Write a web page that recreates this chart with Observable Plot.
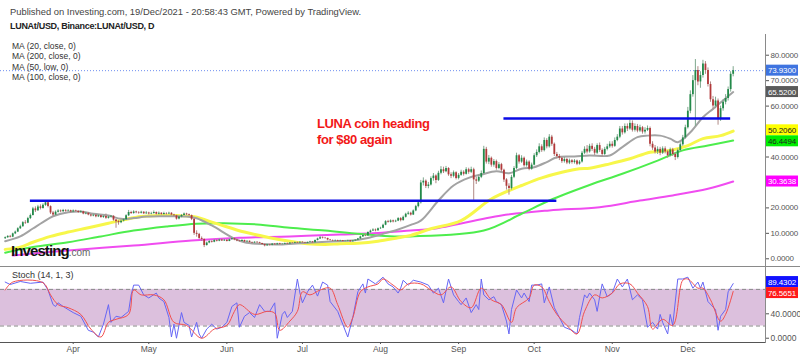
<!DOCTYPE html>
<html><head><meta charset="utf-8">
<script src="https://cdn.jsdelivr.net/npm/d3@7"></script>
<script src="https://cdn.jsdelivr.net/npm/@observablehq/plot@0.6"></script>
<style>
body{margin:0;background:#fff;}
#wrap{position:relative;width:800px;height:357px;overflow:hidden;font-family:Arial,"Liberation Sans",sans-serif;background:#fff;}
.abs{position:absolute;white-space:nowrap;z-index:5;}
#price,#stoch{position:absolute;left:0;}
#price{top:0;} #stoch{top:266px;}
.hl{position:absolute;background:#8a8a8a;z-index:4;}
.ma{position:absolute;white-space:nowrap;z-index:5;left:12px;font-size:8.5px;color:#333;}
</style></head><body><div id="wrap">
<div id="price"></div><div id="stoch"></div>
<div class="hl" style="left:0;top:265.5px;width:800px;height:1.2px"></div>
<div class="hl" style="left:764.5px;top:34px;width:1px;height:309px"></div>
<div class="abs" style="left:10px;top:6px;font-size:9.4px;color:#444">Published on Investing.com, 19/Dec/2021 - 20:58:43 GMT, Powered by TradingView.</div>
<div class="abs" style="left:10px;top:21px;font-size:9px;letter-spacing:-0.3px;font-weight:bold;color:#222">LUNAt/USD, Binance:LUNAt/USD, D</div>
<div class="ma" style="top:40.5px">MA (20, close, 0)</div>
<div class="ma" style="top:51px">MA (200, close, 0)</div>
<div class="ma" style="top:61.5px">MA (50, low, 0)</div>
<div class="ma" style="top:72px">MA (100, close, 0)</div>
<div class="abs" style="left:317px;top:116px;font-size:13px;letter-spacing:-0.4px;line-height:16px;font-weight:bold;color:#f21818">LUNA coin heading<br>for $80 again</div>
<div class="abs" style="left:11px;top:242px;font-size:15px;font-weight:900;letter-spacing:-0.9px;color:#111">Investing<span style="font-size:10px;font-weight:normal;letter-spacing:0;color:#666">.com</span></div>
<div class="abs" style="left:12px;top:270px;font-size:9px;color:#333">Stoch (14, 1, 3)</div>
</div>
<script>
// ---------- DATA ----------
const firstDay = Date.UTC(2021, 2, 5); // Mar 5 2021, one candle per day
const firstOpen = 7.9;
const closes = [
8.3,8.8,8.5,9.8,10.5,11.8,12.6,14.2,14.0,15.8,
17.0,19.6,18.9,20.4,19.8,21.0,22.0,20.5,18.0,17.2,
18.3,18.8,18.5,19.0,18.7,18.9,18.4,18.8,18.6,18.2,
18.5,17.6,17.9,17.2,16.8,17.1,16.5,16.9,16.2,16.6,
15.9,16.4,16.7,15.2,14.6,14.2,14.8,15.3,16.9,18.2,
17.8,18.4,18.1,17.9,18.3,17.7,18.0,17.6,17.8,18.2,
17.5,17.9,17.4,17.8,17.6,17.9,17.2,16.9,15.6,16.4,
17.0,17.6,17.3,17.0,15.5,10.0,9.6,8.0,7.6,5.2,
6.2,6.8,6.5,7.2,6.9,7.4,7.0,7.3,6.8,7.5,
7.9,7.4,7.0,6.8,7.2,6.6,6.9,6.4,6.2,6.5,
6.3,6.0,5.6,5.1,5.5,5.3,5.8,5.5,5.9,5.6,
5.7,6.0,5.8,6.2,6.1,6.4,6.2,6.5,6.3,6.1,
6.4,6.6,6.3,7.2,7.8,8.3,8.1,8.0,7.4,7.2,
7.0,7.2,6.9,7.1,6.8,6.9,7.1,6.7,7.0,7.3,
7.8,8.6,9.2,9.0,10.3,10.9,11.3,11.0,11.8,12.0,
13.2,14.6,14.3,14.9,14.5,14.8,15.8,15.0,16.3,17.5,
17.9,17.2,18.8,20.5,22.0,29.8,30.5,28.4,29.0,31.5,
32.5,30.8,33.6,35.0,34.2,35.5,33.0,32.4,33.8,31.6,
32.8,34.0,33.2,35.0,34.0,35.0,31.0,30.5,32.0,33.5,
43.0,38.0,39.5,36.8,38.2,35.5,37.0,34.8,31.0,28.5,
27.6,32.0,35.5,40.5,38.0,39.5,36.6,38.0,35.2,36.8,
40.5,41.8,44.0,42.5,46.5,44.0,47.8,45.0,41.0,40.2,
39.5,38.2,39.0,37.6,38.5,37.8,38.4,37.2,38.0,41.5,
43.0,42.0,44.2,43.0,41.5,44.5,42.6,41.0,43.0,44.0,
45.0,44.2,46.5,47.8,51.0,49.5,52.0,51.0,53.2,50.5,
52.0,50.2,51.5,49.8,50.5,51.2,45.0,43.5,42.0,43.0,
41.5,43.2,42.0,40.5,42.8,41.0,39.8,42.5,44.8,47.5,
51.5,58.0,64.5,70.0,74.0,69.5,72.0,76.5,74.0,68.5,
62.5,60.0,62.0,55.0,59.0,61.5,63.0,66.5,72.5,73.93];
const highs = [
8.6,9.1,9.2,10.1,10.9,12.2,13.2,14.6,15.0,16.3,
17.6,20.2,20.4,21.0,21.2,21.6,22.8,22.5,20.8,18.6,
18.8,19.3,19.2,19.4,19.3,19.3,19.1,19.2,19.1,18.9,
18.9,18.7,18.3,18.1,17.5,17.5,17.3,17.3,17.1,17.0,
17.6,16.8,17.0,16.9,15.5,15.0,15.2,15.8,17.3,19.0,
18.7,18.9,18.7,18.5,18.7,18.5,18.6,18.3,18.3,18.8,
18.4,18.4,18.1,18.3,18.1,18.3,18.1,17.5,17.1,16.8,
17.4,18.0,17.9,17.6,17.2,15.8,11.0,10.0,8.6,7.8,
6.6,7.2,7.1,7.6,7.5,7.8,7.7,7.6,7.5,7.8,
8.3,8.1,7.6,7.2,7.5,7.3,7.1,7.0,6.6,6.7,
6.7,6.5,6.1,5.8,5.7,5.7,6.0,6.0,6.1,6.1,
6.0,6.2,6.2,6.4,6.4,6.6,6.6,6.7,6.7,6.5,
6.6,6.9,6.8,7.4,8.1,8.8,8.6,8.4,8.1,7.6,
7.4,7.4,7.3,7.3,7.2,7.1,7.3,7.2,7.2,7.5,
8.0,8.9,9.6,9.6,10.6,11.3,11.8,11.7,12.1,12.4,
13.6,15.0,15.1,15.3,15.2,15.2,16.2,16.2,16.8,17.9,
18.5,18.3,19.2,21.0,22.8,30.8,31.8,31.0,30.0,32.2,
33.5,33.0,34.4,36.2,36.0,36.3,35.8,33.8,34.5,34.2,
33.5,34.8,34.6,35.8,35.6,36.0,35.6,32.0,32.8,34.5,
44.2,43.8,40.6,40.0,39.0,38.8,37.8,37.5,35.2,31.5,
29.5,32.8,36.2,41.5,41.0,40.5,40.0,38.8,38.5,37.6,
41.3,42.8,45.2,44.8,47.5,47.2,48.8,48.5,45.5,41.8,
41.0,40.0,39.8,39.5,39.2,39.0,39.0,38.8,38.6,42.2,
44.0,44.5,45.0,45.2,43.8,45.2,45.5,43.2,43.8,45.0,
46.0,46.0,47.5,48.8,52.0,52.0,53.0,53.0,54.5,54.2,
53.0,52.8,52.5,52.0,51.5,52.2,51.8,46.0,44.5,44.0,
43.8,44.0,44.0,42.6,43.5,43.4,41.8,43.2,45.6,48.5,
52.5,59.5,66.0,72.0,78.3,75.5,73.5,78.0,77.5,75.0,
69.5,63.8,63.5,62.8,60.0,62.5,64.5,67.5,73.5,75.5];
const lows = [
7.6,8.0,8.2,8.3,9.5,10.3,11.5,12.4,13.5,13.8,
15.4,16.8,18.2,18.6,19.2,19.5,20.6,20.0,17.4,16.5,
16.9,18.0,18.1,18.2,18.3,18.4,18.0,18.1,18.2,17.8,
17.9,17.3,17.3,16.9,16.4,16.5,16.1,16.2,15.9,15.9,
15.5,15.6,16.0,14.8,12.0,13.2,13.8,14.5,15.0,16.6,
17.4,17.5,17.7,17.5,17.6,17.4,17.4,17.2,17.3,17.5,
17.2,17.2,17.1,17.1,17.2,17.3,16.9,16.5,15.2,15.3,
16.1,16.8,17.0,16.6,15.0,9.2,8.5,7.6,6.8,4.4,
5.0,5.9,6.2,6.3,6.6,6.7,6.8,6.8,6.6,6.7,
7.3,7.1,6.7,6.5,6.6,6.3,6.4,6.2,5.9,6.0,
6.0,5.7,5.3,4.7,4.9,5.0,5.1,5.3,5.3,5.4,
5.4,5.5,5.6,5.7,5.9,5.9,6.0,6.0,6.1,5.9,
5.9,6.2,6.1,6.2,7.0,7.6,7.8,7.7,7.1,6.9,
6.8,6.8,6.7,6.7,6.6,6.6,6.7,6.4,6.5,6.8,
7.1,7.6,8.4,8.7,8.9,10.0,10.7,10.6,10.8,11.5,
11.8,13.0,14.0,14.0,14.1,14.2,14.6,14.5,14.8,16.0,
17.1,16.8,17.0,18.5,20.0,21.5,28.6,27.6,27.5,28.6,
30.5,29.5,30.4,33.0,33.5,33.8,32.4,31.5,31.8,31.0,
31.0,32.4,32.5,32.9,33.2,33.5,23.0,29.2,30.0,31.5,
33.2,37.2,37.0,36.0,36.0,34.8,35.0,34.0,30.0,27.0,
25.0,27.0,31.5,35.0,37.2,37.5,36.0,36.0,34.6,34.8,
36.5,39.8,41.2,41.8,42.0,43.2,43.5,44.2,40.2,39.2,
38.6,37.5,37.6,37.0,37.0,37.2,37.2,36.6,36.8,37.6,
41.0,41.2,41.5,42.2,40.6,41.0,41.8,40.0,40.5,42.4,
43.4,43.5,43.8,46.0,47.2,48.6,49.0,50.0,50.5,49.8,
49.8,49.5,49.6,49.0,49.0,50.0,44.0,42.6,41.2,41.0,
40.5,41.0,41.2,39.5,40.0,40.2,38.6,39.2,42.0,44.2,
47.0,51.0,57.0,63.5,52.0,68.0,67.0,71.0,72.5,67.5,
61.5,58.5,59.0,52.5,54.0,58.0,60.5,62.0,65.5,71.5];

// moving averages (day index from Mar 5, value)
const ma20Days = [0,6,11,15,19,25,30,35,41,46,51,56,64,72,76,82,91,95,100,109,117,124,132,138,144,150,156,161,165,172,178,184,189,195,200,205,210,215,219,226,232,240,245,251,255,260,264,267,272,277,281,285,289];
const ma20Vals = [6.9,8.8,11.9,14.4,16.7,18.3,18.6,17.7,17.0,15.7,16.0,16.6,16.7,16.6,15.9,13.1,7.9,6.5,5.9,5.6,6.1,6.5,6.9,7.2,8.2,9.8,11.5,13.3,15.0,22.9,28.8,31.8,33.1,34.4,33.6,35.4,36.0,38.0,39.9,40.2,40.6,40.6,43.9,47.8,48.4,48.4,47.2,45.8,49.7,55.6,58.9,62.2,65.52];
const ma50Days = [0,6,11,18,25,33,41,47,54,62,68,75,84,95,105,113,120,127,133,140,148,156,161,169,181,192,197,205,213,221,228,232,240,248,256,264,271,277,284,289];
const ma50Vals = [3.7,4.6,6.5,8.8,10.5,12.2,14.0,15.3,16.6,17.0,17.0,16.5,13.8,10.5,8.3,6.9,5.9,5.6,5.9,6.1,6.9,8.3,9.2,11.8,15.0,22.9,25.5,28.8,31.8,34.0,35.4,35.6,37.3,39.3,41.9,42.6,44.5,47.2,48.4,50.206];
const ma100Days = [0,11,25,38,51,64,76,87,100,113,127,140,148,156,161,190,205,216,232,245,259,269,279,289];
const ma100Vals = [2.4,4.6,6.5,8.8,11.1,12.7,13.8,14.0,13.5,12.2,11.1,9.8,9.2,8.8,8.8,11.1,17.7,22.9,29.0,33.4,38.6,42.6,44.5,46.4494];
const ma200Days = [3,25,51,74,93,113,133,148,161,170,197,216,236,252,265,279,289];
const ma200Vals = [1.3,3.3,5.2,7.2,8.3,8.8,9.5,10.1,11.1,11.8,17.0,19.0,20.3,22.9,24.9,27.5,30.3638];

// horizontal support/resistance lines drawn on the chart
const levelFrom = [10, 198];
const levelTo = [219, 288];
const levelValue = [22.8, 55.1];

// stochastic %K (blue) and %D (red)
const kDays = [0,2,6,10,15,17,19,20,21,23,27,30,33,35,37,39,41,42,44,46,49,50,51,53,55,57,60,61,63,65,66,67,68,70,71,73,74,76,77,78,80,82,84,86,88,90,92,93,95,97,99,101,103,105,107,108,110,111,112,114,116,117,118,120,122,124,126,128,129,132,134,136,138,140,142,143,144,147,150,152,154,156,157,158,160,162,165,168,170,172,174,176,178,180,181,183,185,187,188,189,190,192,194,195,197,199,200,201,203,205,206,208,209,211,213,214,216,218,220,222,225,227,228,230,231,232,234,235,236,237,239,241,243,245,247,249,251,253,255,257,259,260,261,263,264,265,267,269,271,273,275,276,277,279,282,283,284,286,287,289];
const kVals = [92,88,93,90,92,79,55,52,58,52,42,36,13,10,2,23,55,26,36,34,44,71,87,87,71,66,74,66,60,34,2,23,0,42,26,21,2,26,7,0,15,23,15,18,26,52,58,18,36,42,34,55,44,44,58,0,39,44,34,44,97,74,58,76,87,69,92,87,60,44,23,2,34,76,89,74,97,89,100,89,84,74,82,95,87,95,92,87,74,82,58,97,71,60,55,66,42,55,47,97,71,63,68,60,55,28,7,47,79,66,74,60,87,87,89,58,84,50,34,18,13,7,34,71,66,74,63,44,68,89,68,74,97,84,97,63,71,63,18,26,15,39,26,7,39,21,97,97,100,82,92,82,92,60,47,13,36,47,76,89.4302];
const dDays = [0,3,15,18,21,25,30,34,38,41,44,49,51,54,59,63,67,72,78,83,88,91,93,99,104,107,109,113,116,118,121,125,129,132,136,138,141,144,148,150,154,157,160,165,169,173,177,181,185,189,193,197,201,203,208,210,213,216,219,223,227,230,234,237,241,244,248,251,255,257,261,265,269,271,275,277,280,284,286,289];
const dVals = [79,92,91,71,55,50,39,15,2,26,31,39,79,71,71,63,26,21,0,15,21,44,55,39,44,41,13,28,44,76,71,79,82,55,18,34,76,84,89,97,87,79,89,89,79,71,84,60,50,82,63,55,26,50,66,87,84,60,39,21,7,44,71,66,74,89,89,74,52,15,31,21,95,97,82,82,63,28,39,76.5651];

// axes: tick labels that are visible (others are hidden behind value badges)
const priceTicks = [0,10,20,40,60,70,80];
const stochTicks = [0,40];
const stochBand = [20, 80];
const monthStarts = [3,4,5,6,7,8,9,10,11];
const monthLabels = ["Apr","May","Jun","Jul","Aug","Sep","Oct","Nov","Dec"];
const lastClose = 73.93;

// ---------- BUILD ----------
const DAY = 864e5;
const dayDate = i => new Date(firstDay + i * DAY);
const xDomain = [new Date(Date.UTC(2021,2,3,3,20)), new Date(Date.UTC(2021,11,31,20))];
const font = "Arial, 'Liberation Sans', sans-serif";

const candles = closes.map((c, i) => ({
  date: dayDate(i), open: i ? closes[i-1] : firstOpen, close: c, high: highs[i], low: lows[i]
}));
const up = candles.filter(d => d.close >= d.open);
const down = candles.filter(d => d.close < d.open);
const series = (days, vals) => days.map((d, i) => ({date: dayDate(d), v: vals[i]}));
const levels = levelValue.map((v, i) => ({from: dayDate(levelFrom[i]), to: dayDate(levelTo[i]), v}));

const axisStyle = {fontFamily: font, fontSize: "8px", letterSpacing: "-0.2px", color: "#555", background: "transparent"};

const price = Plot.plot({
  width: 800, height: 266, marginLeft: 0, marginRight: 35, marginTop: 0, marginBottom: 0,
  style: axisStyle,
  x: {type: "utc", domain: xDomain, axis: null},
  y: {domain: [-3.03, 101.5], axis: "right", ticks: priceTicks, tickFormat: d => d.toFixed(4), tickSize: 3, tickPadding: 2, label: null},
  marks: [
    Plot.ruleY([lastClose], {stroke: "#6f8ff0", strokeDasharray: "1,2", strokeWidth: 1}),
    Plot.line(series(ma200Days, ma200Vals), {x: "date", y: "v", stroke: "#f04cf0", strokeWidth: 2, curve: "catmull-rom"}),
    Plot.line(series(ma100Days, ma100Vals), {x: "date", y: "v", stroke: "#4ded4d", strokeWidth: 2, curve: "catmull-rom"}),
    Plot.line(series(ma50Days, ma50Vals), {x: "date", y: "v", stroke: "#f7f74a", strokeWidth: 3, curve: "catmull-rom"}),
    Plot.line(series(ma20Days, ma20Vals), {x: "date", y: "v", stroke: "#a3a3a3", strokeWidth: 2, curve: "catmull-rom"}),
    Plot.ruleX(up, {x: "date", y1: "low", y2: "high", stroke: "#7fa88e", strokeWidth: 1}),
    Plot.ruleX(down, {x: "date", y1: "low", y2: "high", stroke: "#b08a86", strokeWidth: 1}),
    Plot.ruleX(up, {x: "date", y1: "open", y2: "close", stroke: "#238a4a", strokeWidth: 1.8}),
    Plot.ruleX(down, {x: "date", y1: "open", y2: "close", stroke: "#b2393a", strokeWidth: 1.8}),
    Plot.ruleY(levels, {y: "v", x1: "from", x2: "to", stroke: "#0a0ae6", strokeWidth: 2.5})
  ]
});
document.getElementById("price").appendChild(price);

const stoch = Plot.plot({
  width: 800, height: 91, marginLeft: 0, marginRight: 35, marginTop: 0, marginBottom: 15,
  style: {...axisStyle, fontSize: "8.5px", letterSpacing: "0px"},
  x: {type: "utc", domain: xDomain, ticks: monthStarts.map(m => new Date(Date.UTC(2021, m, 1))),
      tickFormat: d => monthLabels[monthStarts.indexOf(d.getUTCMonth())], tickSize: 2, tickPadding: 1, line: true, label: null},
  y: {domain: [-7.0, 117.5], axis: "right", ticks: stochTicks, tickFormat: d => d.toFixed(4), tickSize: 3, tickPadding: 2, label: null},
  marks: [
    Plot.rect([stochBand], {x1: () => xDomain[0], x2: () => xDomain[1], y1: d => d[0], y2: d => d[1], fill: "#dcc0dd"}),
    Plot.ruleY(stochBand, {stroke: "#8a8a8a", strokeDasharray: "4,3", strokeWidth: 1}),
    Plot.line(series(kDays, kVals), {x: "date", y: "v", stroke: "#6666f5", strokeWidth: 1}),
    Plot.line(series(dDays, dVals), {x: "date", y: "v", stroke: "#f24f4f", strokeWidth: 1, curve: "catmull-rom"})
  ]
});
document.getElementById("stoch").appendChild(stoch);

// value badges on the right scale (pushed apart when they would collide)
function badges(plot, list) {
  const s = plot.scale("y");
  const f = s.apply ? (v => s.apply(v)) : d3.scaleLinear(s.domain, s.range);
  const H = 11;
  const items = list.map(b => ({...b, py: f(b.v)})).sort((a, b) => a.py - b.py);
  for (let k = 0; k < 4; k++) {
    for (let i = 1; i < items.length; i++) {
      const gap = items[i].py - items[i-1].py;
      if (gap < H) { const d = (H - gap) / 2; items[i-1].py -= d; items[i].py += d; }
    }
  }
  const g = d3.select(plot).append("g").attr("font-family", font).attr("font-size", 8).attr("letter-spacing", "-0.1px");
  for (const b of items) {
    g.append("rect").attr("x", 766).attr("y", b.py - H/2).attr("width", 32).attr("height", H).attr("fill", b.bg);
    g.append("text").attr("x", 782).attr("y", b.py + 3).attr("text-anchor", "middle").attr("fill", b.fg).text(b.v.toFixed(4));
  }
}
badges(price, [
  {v: lastClose, bg: "#3f74e0", fg: "#fff"},
  {v: ma20Vals[ma20Vals.length-1], bg: "#5a5a5a", fg: "#fff"},
  {v: ma50Vals[ma50Vals.length-1], bg: "#ffff00", fg: "#222"},
  {v: ma100Vals[ma100Vals.length-1], bg: "#00ee00", fg: "#222"},
  {v: ma200Vals[ma200Vals.length-1], bg: "#ff00ff", fg: "#fff"}
]);
badges(stoch, [
  {v: kVals[kVals.length-1], bg: "#1212ff", fg: "#fff"},
  {v: dVals[dVals.length-1], bg: "#ff1a1a", fg: "#fff"}
]);
</script>
</body></html>
